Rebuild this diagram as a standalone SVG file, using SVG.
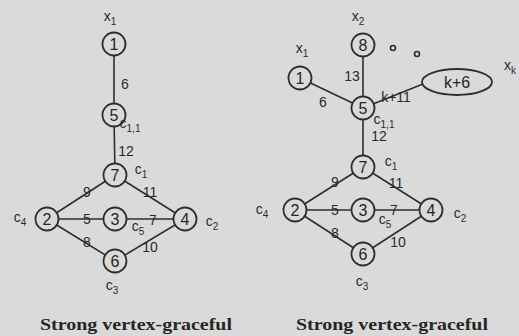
<svg xmlns="http://www.w3.org/2000/svg" width="519" height="336" viewBox="0 0 519 336">
<style>
.e{stroke:#2e2e2e;stroke-width:1.6;fill:none}
.n{stroke:#2e2e2e;stroke-width:1.8;fill:#dadada}
.t{font-family:"Liberation Sans",Arial,sans-serif;font-size:16px;fill:#262626;text-anchor:middle}
.l{font-family:"Liberation Sans",Arial,sans-serif;font-size:14px;fill:#2a2a2a;text-anchor:middle}
.s{font-size:10px}
.cap{font-family:"Liberation Serif","Times New Roman",serif;font-weight:bold;font-size:16px;fill:#262626;text-anchor:middle}
</style>
<rect width="519" height="336" fill="#dadada"/>
<g id="connectors">
<line class="e" x1="114" y1="44" x2="114" y2="115"/>
<line class="e" x1="114" y1="115" x2="115" y2="175"/>
<line class="e" x1="115" y1="175" x2="47" y2="219"/>
<line class="e" x1="115" y1="175" x2="185" y2="219"/>
<line class="e" x1="47" y1="219" x2="185" y2="219"/>
<line class="e" x1="47" y1="219" x2="115" y2="261"/>
<line class="e" x1="115" y1="261" x2="185" y2="219"/>
<line class="e" x1="363" y1="45" x2="363" y2="108"/>
<line class="e" x1="300" y1="78" x2="363" y2="108"/>
<line class="e" x1="363" y1="108" x2="423" y2="84"/>
<line class="e" x1="363" y1="108" x2="363" y2="167"/>
<line class="e" x1="363" y1="167" x2="295" y2="210"/>
<line class="e" x1="363" y1="167" x2="431" y2="210"/>
<line class="e" x1="295" y1="210" x2="431" y2="210"/>
<line class="e" x1="295" y1="210" x2="363" y2="254"/>
<line class="e" x1="363" y1="254" x2="431" y2="210"/>
</g>
<g id="L1"><circle class="n" cx="114" cy="44" r="11.5"/><text class="t" x="114" y="50">1</text></g>
<g id="L5"><circle class="n" cx="114" cy="115" r="11.5"/><text class="t" x="114" y="121">5</text></g>
<g id="L7"><circle class="n" cx="115" cy="175" r="11.5"/><text class="t" x="115" y="181">7</text></g>
<g id="L2"><circle class="n" cx="47" cy="219" r="11.5"/><text class="t" x="47" y="225">2</text></g>
<g id="L3"><circle class="n" cx="115" cy="219" r="11.5"/><text class="t" x="115" y="225">3</text></g>
<g id="L4"><circle class="n" cx="185" cy="219" r="11.5"/><text class="t" x="185" y="225">4</text></g>
<g id="L6"><circle class="n" cx="115" cy="261" r="11.5"/><text class="t" x="115" y="267">6</text></g>
<g id="R8"><circle class="n" cx="363" cy="45" r="11.5"/><text class="t" x="363" y="51">8</text></g>
<g id="R1"><circle class="n" cx="300" cy="78" r="11.5"/><text class="t" x="300" y="84">1</text></g>
<g id="R5"><circle class="n" cx="363" cy="108" r="11.5"/><text class="t" x="363" y="114">5</text></g>
<g id="Rk"><ellipse class="n" cx="457" cy="82" rx="35" ry="13"/><text class="t" x="457" y="88">k+6</text></g>
<g id="R7"><circle class="n" cx="363" cy="167" r="11.5"/><text class="t" x="363" y="173">7</text></g>
<g id="R2"><circle class="n" cx="295" cy="210" r="11.5"/><text class="t" x="295" y="216">2</text></g>
<g id="R3"><circle class="n" cx="363" cy="210" r="11.5"/><text class="t" x="363" y="216">3</text></g>
<g id="R4"><circle class="n" cx="431" cy="210" r="11.5"/><text class="t" x="431" y="216">4</text></g>
<g id="R6"><circle class="n" cx="363" cy="254" r="11.5"/><text class="t" x="363" y="260">6</text></g>
<g id="dots"><circle class="e" cx="393" cy="48" r="2.5"/><circle class="e" cx="417" cy="54" r="2.5"/></g>
<g id="labels">
<text class="l" x="110" y="21">x<tspan class="s" dy="4">1</tspan></text>
<text class="l" x="125" y="89">6</text>
<text class="l" x="126" y="156">12</text>
<text class="l" x="130" y="128">c<tspan class="s" dy="4">1,1</tspan></text>
<text class="l" x="141" y="174">c<tspan class="s" dy="4">1</tspan></text>
<text class="l" x="20" y="222">c<tspan class="s" dy="4">4</tspan></text>
<text class="l" x="212" y="226">c<tspan class="s" dy="4">2</tspan></text>
<text class="l" x="138" y="231">c<tspan class="s" dy="4">5</tspan></text>
<text class="l" x="112" y="290">c<tspan class="s" dy="4">3</tspan></text>
<text class="l" x="87" y="197">9</text>
<text class="l" x="150" y="197">11</text>
<text class="l" x="87" y="224">5</text>
<text class="l" x="153" y="225">7</text>
<text class="l" x="87" y="247">8</text>
<text class="l" x="150" y="252">10</text>
<text class="l" x="358" y="21">x<tspan class="s" dy="4">2</tspan></text>
<text class="l" x="302" y="53">x<tspan class="s" dy="4">1</tspan></text>
<text class="l" x="510" y="70">x<tspan class="s" dy="4">k</tspan></text>
<text class="l" x="352" y="81">13</text>
<text class="l" x="323" y="107">6</text>
<text class="l" x="396" y="102">k+11</text>
<text class="l" x="384" y="124">c<tspan class="s" dy="4">1,1</tspan></text>
<text class="l" x="379" y="141">12</text>
<text class="l" x="391" y="166">c<tspan class="s" dy="4">1</tspan></text>
<text class="l" x="262" y="214">c<tspan class="s" dy="4">4</tspan></text>
<text class="l" x="460" y="218">c<tspan class="s" dy="4">2</tspan></text>
<text class="l" x="385" y="224">c<tspan class="s" dy="4">5</tspan></text>
<text class="l" x="362" y="286">c<tspan class="s" dy="4">3</tspan></text>
<text class="l" x="335" y="187">9</text>
<text class="l" x="396" y="188">11</text>
<text class="l" x="335" y="215">5</text>
<text class="l" x="394" y="215">7</text>
<text class="l" x="335" y="238">8</text>
<text class="l" x="398" y="247">10</text>
<text class="cap" x="136" y="330" textLength="192" lengthAdjust="spacingAndGlyphs">Strong vertex-graceful</text>
<text class="cap" x="392" y="330" textLength="192" lengthAdjust="spacingAndGlyphs">Strong vertex-graceful</text>
</g>
</svg>
